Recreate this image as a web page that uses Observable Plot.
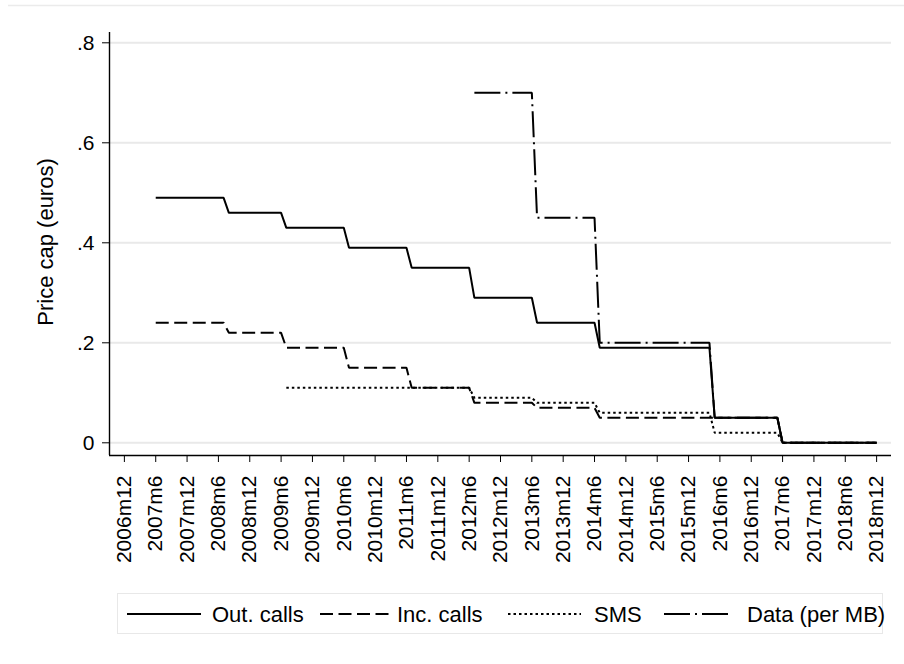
<!DOCTYPE html>
<html>
<head>
<meta charset="utf-8">
<script src="https://cdn.jsdelivr.net/npm/d3@7"></script>
<script src="https://cdn.jsdelivr.net/npm/@observablehq/plot@0.6"></script>
<style>
  body { margin: 0; background: #fff; }
  #wrap { position: relative; width: 904px; height: 664px; background: #fff; font-family: "Liberation Sans", Arial, sans-serif; }
  #wrap svg { position: absolute; left: 0; top: 0; }
</style>
</head>
<body>
<div id="wrap"></div>
<script>
// ---------- data ----------
const seriesNames = ["Out. calls", "Inc. calls", "SMS", "Data (per MB)"];

const outMonths = ["2007m6","2008m7","2008m8","2009m6","2009m7","2010m6","2010m7","2011m6","2011m7","2012m6","2012m7","2013m6","2013m7","2014m6","2014m7","2016m4","2016m5","2017m5","2017m6","2018m12"];
const outValues = [0.49,0.49,0.46,0.46,0.43,0.43,0.39,0.39,0.35,0.35,0.29,0.29,0.24,0.24,0.19,0.19,0.05,0.05,0,0];

const incMonths = ["2007m6","2008m7","2008m8","2009m6","2009m7","2010m6","2010m7","2011m6","2011m7","2012m6","2012m7","2013m6","2013m7","2014m6","2014m7","2016m4","2016m5","2017m5","2017m6","2018m12"];
const incValues = [0.24,0.24,0.22,0.22,0.19,0.19,0.15,0.15,0.11,0.11,0.08,0.08,0.07,0.07,0.05,0.05,0.05,0.05,0,0];

const smsMonths = ["2009m7","2012m6","2012m7","2013m6","2013m7","2014m6","2014m7","2016m4","2016m5","2017m5","2017m6","2018m12"];
const smsValues = [0.11,0.11,0.09,0.09,0.08,0.08,0.06,0.06,0.02,0.02,0,0];

const dataMonths = ["2012m7","2013m6","2013m7","2014m6","2014m7","2016m4","2016m5","2017m5","2017m6","2018m12"];
const dataValues = [0.70,0.70,0.45,0.45,0.20,0.20,0.05,0.05,0,0];

const xTickLabels = ["2006m12","2007m6","2007m12","2008m6","2008m12","2009m6","2009m12","2010m6","2010m12","2011m6","2011m12","2012m6","2012m12","2013m6","2013m12","2014m6","2014m12","2015m6","2015m12","2016m6","2016m12","2017m6","2017m12","2018m6","2018m12"];
const yTicks = [0, 0.2, 0.4, 0.6, 0.8];
const yTickLabels = ["0", ".2", ".4", ".6", ".8"];
const yTitle = "Price cap (euros)";

// ---------- helpers ----------
const toIdx = s => { const [y, m] = s.split("m").map(Number); return y * 12 + (m - 1); };
const rowsOf = (months, values) => months.map((m, i) => ({t: toIdx(m), v: values[i]}));

const seriesRows = [
  rowsOf(outMonths, outValues),
  rowsOf(incMonths, incValues),
  rowsOf(smsMonths, smsValues),
  rowsOf(dataMonths, dataValues)
];
const dashes = [null, "13,5.5", "2.5,3", "26,5,2,5"];

const xTicks = xTickLabels.map(toIdx);
const xLabelMap = new Map(xTickLabels.map(s => [toIdx(s), s]));
const xMin = toIdx("2006m12") - 2.85, xMax = toIdx("2018m12") + 2.85;
const yMin = -0.0254, yMax = 0.8206;
const font = '"Liberation Sans", Arial, sans-serif';

const chart = Plot.plot({
  width: 904,
  height: 664,
  marginLeft: 109,
  marginRight: 13,
  marginTop: 32,
  marginBottom: 209,
  style: {fontFamily: font, fontSize: "21px", color: "#000", background: "transparent", overflow: "visible"},
  x: {type: "linear", domain: [xMin, xMax]},
  y: {domain: [yMin, yMax]},
  marks: [
    Plot.gridY(yTicks, {stroke: "#e9e9e9", strokeOpacity: 1, strokeWidth: 2}),
    ...seriesRows.map((rows, i) => Plot.line(rows, {
      x: "t", y: "v", stroke: "#000", strokeWidth: 2,
      strokeDasharray: dashes[i] ?? undefined, strokeLinejoin: "miter", strokeLinecap: "butt"
    })),
    Plot.ruleX([xMin], {stroke: "#000", strokeWidth: 1.4}),
    Plot.ruleY([yMin], {stroke: "#000", strokeWidth: 1.4}),
    Plot.axisY({ticks: yTicks, tickFormat: (d) => yTickLabels[yTicks.indexOf(d)], tickSize: 7, tickPadding: 8, label: null, fontSize: 21}),
    Plot.axisX({ticks: xTicks, tickFormat: d => xLabelMap.get(d), tickRotate: -90, tickSize: 7, tickPadding: 13, label: null, fontSize: 21}),
    Plot.text([yTitle], {frameAnchor: "left", dx: -64, dy: -2, rotate: -90, textAnchor: "middle", fontSize: 22, fill: "#000"})
  ]
});

const wrap = document.getElementById("wrap");
wrap.appendChild(chart);

// ---------- top border & legend ----------
const over = d3.select(wrap).append("svg")
  .attr("width", 904).attr("height", 664)
  .style("pointer-events", "none");

over.append("line").attr("x1", 8).attr("x2", 904).attr("y1", 5.5).attr("y2", 5.5)
  .attr("stroke", "#ebebeb").attr("stroke-width", 1.5);

const lg = over.append("g");
lg.append("rect").attr("x", 117.5).attr("y", 593.5).attr("width", 765).attr("height", 40)
  .attr("fill", "#fff").attr("stroke", "#e8e8e8").attr("stroke-width", 1);

const sampleX = [[127, 201], [320, 390], [508, 581], [664, 732]];
const textX = [212, 397, 594, 747];
seriesNames.forEach((name, i) => {
  const l = lg.append("line")
    .attr("x1", sampleX[i][0]).attr("x2", sampleX[i][1])
    .attr("y1", 614).attr("y2", 614)
    .attr("stroke", "#000").attr("stroke-width", 2);
  if (dashes[i]) l.attr("stroke-dasharray", dashes[i]);
  lg.append("text").attr("x", textX[i]).attr("y", 622)
    .attr("font-family", font).attr("font-size", 22).attr("fill", "#000")
    .text(name);
});
</script>
</body>
</html>
